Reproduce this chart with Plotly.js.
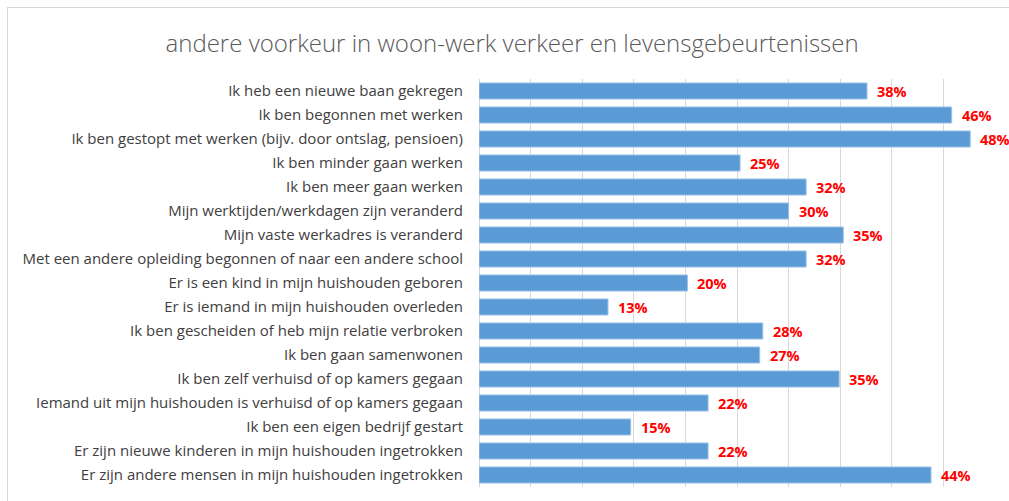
<!DOCTYPE html>
<html>
<head>
<meta charset="utf-8">
<script src="https://cdn.plot.ly/plotly-3.0.1.min.js"></script>
<style>
html,body{margin:0;padding:0;background:#fff;overflow:hidden;}
#chart{width:1009px;height:501px;position:relative;}
#frame{position:absolute;left:7px;top:7px;width:1010px;height:500px;border-left:1.5px solid #d9d9d9;border-top:1.5px solid #d9d9d9;pointer-events:none;}
</style>
</head>
<body>
<div id="chart"></div>
<div id="frame"></div>
<script>
const categories = [
  "Ik heb een nieuwe baan gekregen",
  "Ik ben begonnen met werken",
  "Ik ben gestopt met werken (bijv. door ontslag, pensioen)",
  "Ik ben minder gaan werken",
  "Ik ben meer gaan werken",
  "Mijn werktijden/werkdagen zijn veranderd",
  "Mijn vaste werkadres is veranderd",
  "Met een andere opleiding begonnen of naar een andere school",
  "Er is een kind in mijn huishouden geboren",
  "Er is iemand in mijn huishouden overleden",
  "Ik ben gescheiden of heb mijn relatie verbroken",
  "Ik ben gaan samenwonen",
  "Ik ben zelf verhuisd of op kamers gegaan",
  "Iemand uit mijn huishouden is verhuisd of op kamers gegaan",
  "Ik ben een eigen bedrijf gestart",
  "Er zijn nieuwe kinderen in mijn huishouden ingetrokken",
  "Er zijn andere mensen in mijn huishouden ingetrokken"
];
const values = [37.6, 45.8, 47.6, 25.3, 31.7, 30.0, 35.3, 31.7, 20.2, 12.5, 27.5, 27.2, 34.9, 22.2, 14.7, 22.2, 43.8];
const valueLabels = ["38%", "46%", "48%", "25%", "32%", "30%", "35%", "32%", "20%", "13%", "28%", "27%", "35%", "22%", "15%", "22%", "44%"];
const xTicks = [0, 5, 10, 15, 20, 25, 30, 35, 40, 45, 50];

const trace = {
  type: 'bar',
  orientation: 'h',
  y: categories,
  x: values,
  marker: {color: '#5b9bd5', line: {color: '#9dc3e6', width: 1}},
  hoverinfo: 'none'
};

const annotations = categories.map((c, i) => ({
  x: values[i], y: c, xref: 'x', yref: 'y',
  text: valueLabels[i], showarrow: false,
  xanchor: 'left', yanchor: 'middle', xshift: 8,
  font: {family: 'Open Sans, sans-serif', size: 14.5, color: '#ff0000', weight: 'bold'}
}));

const layout = {
  width: 1009, height: 501,
  margin: {l: 479, r: 14, t: 79, b: 14, pad: 0},
  paper_bgcolor: '#ffffff', plot_bgcolor: '#ffffff',
  title: {
    text: 'andere voorkeur in woon-werk verkeer en levensgebeurtenissen',
    x: 0.5075, xanchor: 'center', y: 1 - 44/501, yanchor: 'middle',
    font: {family: 'Open Sans, sans-serif', size: 24, color: '#595959', weight: 300}
  },
  bargap: 0.33,
  showlegend: false,
  xaxis: {
    range: [0, 50], tickvals: xTicks, showticklabels: false,
    showgrid: true, gridcolor: '#d9d9d9', gridwidth: 1,
    zeroline: true, zerolinecolor: '#d9d9d9', zerolinewidth: 1,
    showline: false, fixedrange: true
  },
  yaxis: {
    autorange: 'reversed', type: 'category',
    tickfont: {family: 'Open Sans, sans-serif', size: 15, color: '#404040'},
    ticks: '', ticklen: 0, showgrid: false, zeroline: false, showline: false,
    automargin: false, ticklabelstandoff: 15
  },
  annotations: annotations
};

Plotly.newPlot('chart', [trace], layout, {displayModeBar: false, staticPlot: true});
</script>
</body>
</html>
